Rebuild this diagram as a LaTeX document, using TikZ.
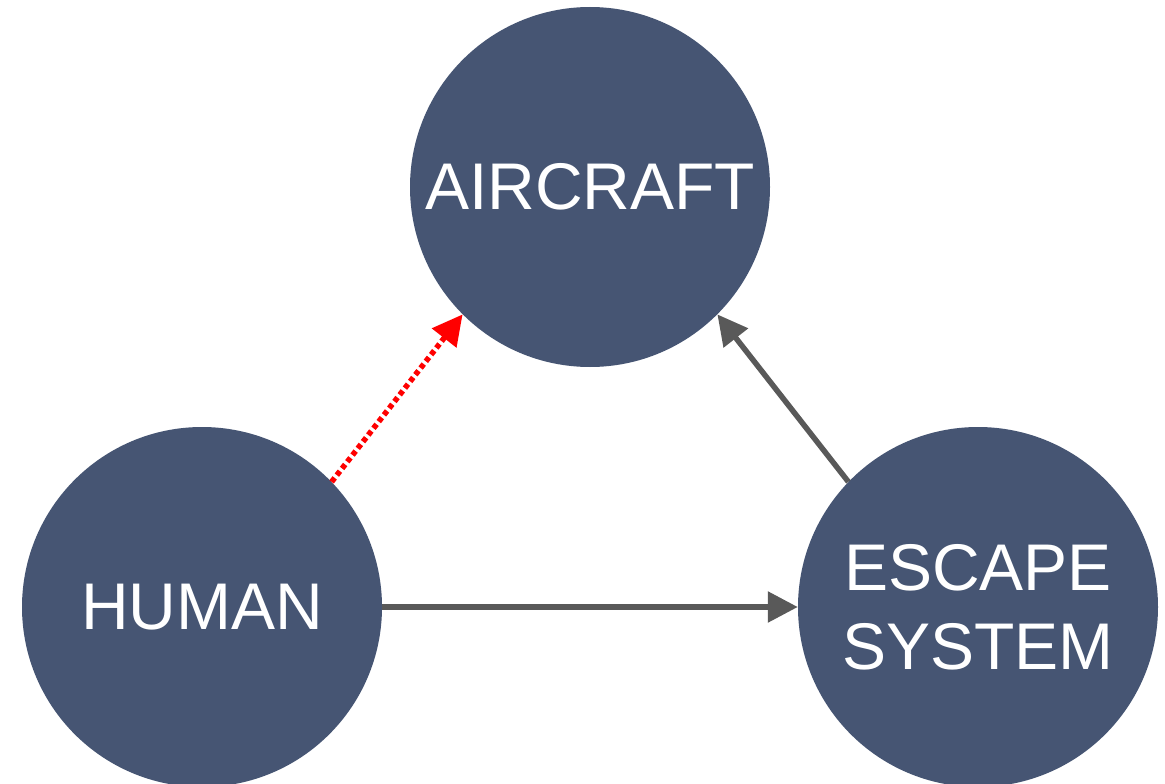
\documentclass[tikz,border=0pt]{standalone}
\usepackage{fontspec}
\setmainfont{Liberation Sans}
\usetikzlibrary{arrows.meta}
\definecolor{nodeblue}{HTML}{465573}
\definecolor{linkgray}{HTML}{595959}
\tikzset{
  x=1pt, y=-1pt,
  entity/.style={circle, fill=nodeblue, minimum size=360pt, inner sep=0pt,
    text=white, align=center, font=\fontsize{66}{79}\selectfont},
  link/.style={draw=linkgray, line width=5.5pt,
    -{Triangle[length=30pt,width=30pt]}},
  weaklink/.style={draw=red, line width=5.5pt, dash pattern=on 5pt off 3.5pt,
    -{Triangle[length=30pt,width=30pt]}}
}
\begin{document}
\begin{tikzpicture}
\useasboundingbox (0,0) rectangle (1165,784);
\node[entity] (aircraft) at (590,187) {AIRCRAFT};
\node[entity] (human) at (202,607) {HUMAN};
\node[entity] (escape) at (978,607) {ESCAPE\\SYSTEM};
\draw[weaklink] (human.44) -- (aircraft.225);
\draw[link] (escape.136) -- (aircraft.315);
\draw[link] (human.east) -- (escape.west);
\end{tikzpicture}
\end{document}
